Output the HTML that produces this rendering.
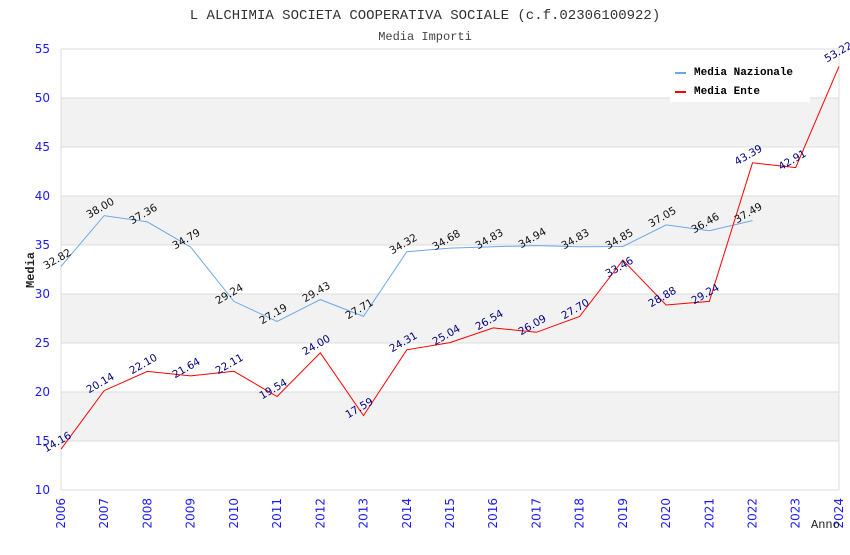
<!DOCTYPE html>
<html><head><meta charset="utf-8"><style>body{margin:0;background:#fff}</style></head><body>
<svg width="850" height="550" xmlns="http://www.w3.org/2000/svg" font-family="Liberation Mono, DejaVu Sans Mono, monospace">
<rect width="850" height="550" fill="#fff"/>
<text x="425" y="19" text-anchor="middle" font-size="14" fill="#333">L ALCHIMIA SOCIETA COOPERATIVA SOCIALE (c.f.02306100922)</text>
<text x="425" y="40" text-anchor="middle" font-size="12" fill="#444">Media Importi</text>
<g fill="#f2f2f2">
<rect x="61" y="98" width="778" height="49"/>
<rect x="61" y="196" width="778" height="49"/>
<rect x="61" y="294" width="778" height="49"/>
<rect x="61" y="392" width="778" height="49"/>
</g>
<g stroke="#dcdcdc" stroke-width="1">
<line x1="61" y1="49" x2="839" y2="49"/><line x1="61" y1="98" x2="839" y2="98"/>
<line x1="61" y1="147" x2="839" y2="147"/><line x1="61" y1="196" x2="839" y2="196"/>
<line x1="61" y1="245" x2="839" y2="245"/><line x1="61" y1="294" x2="839" y2="294"/>
<line x1="61" y1="343" x2="839" y2="343"/><line x1="61" y1="392" x2="839" y2="392"/>
<line x1="61" y1="441" x2="839" y2="441"/><line x1="61" y1="490" x2="839" y2="490"/>
<line x1="61" y1="49" x2="61" y2="490"/><line x1="839" y1="49" x2="839" y2="490"/>
</g>
<g font-family="DejaVu Sans, sans-serif" font-size="12" fill="#1a1aff" text-anchor="end">
<text x="50" y="53">55</text><text x="50" y="102">50</text><text x="50" y="151">45</text>
<text x="50" y="200">40</text><text x="50" y="249">35</text><text x="50" y="298">30</text>
<text x="50" y="347">25</text><text x="50" y="396">20</text><text x="50" y="445">15</text>
<text x="50" y="494">10</text>
</g>
<g font-family="DejaVu Sans, sans-serif" font-size="12" fill="#1a1aff" text-anchor="end">
<text transform="translate(65,498) rotate(-90)">2006</text>
<text transform="translate(108.2,498) rotate(-90)">2007</text>
<text transform="translate(151.4,498) rotate(-90)">2008</text>
<text transform="translate(194.7,498) rotate(-90)">2009</text>
<text transform="translate(237.9,498) rotate(-90)">2010</text>
<text transform="translate(281.1,498) rotate(-90)">2011</text>
<text transform="translate(324.3,498) rotate(-90)">2012</text>
<text transform="translate(367.5,498) rotate(-90)">2013</text>
<text transform="translate(410.8,498) rotate(-90)">2014</text>
<text transform="translate(454,498) rotate(-90)">2015</text>
<text transform="translate(497.2,498) rotate(-90)">2016</text>
<text transform="translate(540.4,498) rotate(-90)">2017</text>
<text transform="translate(583.6,498) rotate(-90)">2018</text>
<text transform="translate(626.9,498) rotate(-90)">2019</text>
<text transform="translate(670.1,498) rotate(-90)">2020</text>
<text transform="translate(713.3,498) rotate(-90)">2021</text>
<text transform="translate(756.5,498) rotate(-90)">2022</text>
<text transform="translate(799.7,498) rotate(-90)">2023</text>
<text transform="translate(843,498) rotate(-90)">2024</text>
</g>
<text transform="translate(34,270) rotate(-90)" text-anchor="middle" font-size="12" font-weight="bold" fill="#222">Media</text>
<text x="811" y="528" font-size="12" fill="#222">Anno</text>
<polyline fill="none" stroke="#6aa8ee" stroke-width="1" points="61,266.4 104.2,215.6 147.4,221.9 190.7,247.1 233.9,301.4 277.1,321.5 320.3,299.6 363.5,316.4 406.8,251.7 450,248.1 493.2,246.7 536.4,245.6 579.6,246.7 622.9,246.5 666.1,224.9 709.3,230.7 752.5,220.6"/>
<polyline fill="none" stroke="#ff0000" stroke-width="1" points="61,449.2 104.2,390.6 147.4,371.4 190.7,375.9 233.9,371.3 277.1,396.5 320.3,352.8 363.5,415.6 406.8,349.8 450,342.6 493.2,327.9 536.4,332.3 579.6,316.5 622.9,260.1 666.1,305 709.3,301.4 752.5,162.8 795.7,167.6 839,66.4"/>
<g font-family="DejaVu Sans, sans-serif" font-size="10.5" fill="#111" text-anchor="middle">
<text transform="translate(59,262) rotate(-30)">32.82</text>
<text transform="translate(102,211) rotate(-30)">38.00</text>
<text transform="translate(145,217) rotate(-30)">37.36</text>
<text transform="translate(188,242) rotate(-30)">34.79</text>
<text transform="translate(231,297) rotate(-30)">29.24</text>
<text transform="translate(275,317) rotate(-30)">27.19</text>
<text transform="translate(318,295) rotate(-30)">29.43</text>
<text transform="translate(361,312) rotate(-30)">27.71</text>
<text transform="translate(405,247) rotate(-30)">34.32</text>
<text transform="translate(448,243) rotate(-30)">34.68</text>
<text transform="translate(491,242) rotate(-30)">34.83</text>
<text transform="translate(534,241) rotate(-30)">34.94</text>
<text transform="translate(577,242) rotate(-30)">34.83</text>
<text transform="translate(621,242) rotate(-30)">34.85</text>
<text transform="translate(664,220) rotate(-30)">37.05</text>
<text transform="translate(707,226) rotate(-30)">36.46</text>
<text transform="translate(750,216) rotate(-30)">37.49</text>
</g>
<g font-family="DejaVu Sans, sans-serif" font-size="10.5" fill="#000080" text-anchor="middle">
<text transform="translate(59,445) rotate(-30)">14.16</text>
<text transform="translate(102,386) rotate(-30)">20.14</text>
<text transform="translate(145,367) rotate(-30)">22.10</text>
<text transform="translate(188,371) rotate(-30)">21.64</text>
<text transform="translate(231,367) rotate(-30)">22.11</text>
<text transform="translate(275,392) rotate(-30)">19.54</text>
<text transform="translate(318,348) rotate(-30)">24.00</text>
<text transform="translate(361,411) rotate(-30)">17.59</text>
<text transform="translate(405,345) rotate(-30)">24.31</text>
<text transform="translate(448,338) rotate(-30)">25.04</text>
<text transform="translate(491,323) rotate(-30)">26.54</text>
<text transform="translate(534,328) rotate(-30)">26.09</text>
<text transform="translate(577,312) rotate(-30)">27.70</text>
<text transform="translate(621,270) rotate(-30)">33.46</text>
<text transform="translate(664,300) rotate(-30)">28.88</text>
<text transform="translate(707,297) rotate(-30)">29.24</text>
<text transform="translate(750,158) rotate(-30)">43.39</text>
<text transform="translate(794,163) rotate(-30)">42.91</text>
<text transform="translate(840,55) rotate(-30)">53.22</text>
</g>
<rect x="670" y="58" width="140" height="44" fill="#fff"/>
<line x1="675" y1="73" x2="686" y2="73" stroke="#6aa8ee" stroke-width="2"/>
<line x1="675" y1="92" x2="686" y2="92" stroke="#ff0000" stroke-width="2"/>
<g font-size="11" font-weight="bold" fill="#000">
<text x="694" y="75">Media Nazionale</text>
<text x="694" y="94">Media Ente</text>
</g>
</svg>
</body></html>
